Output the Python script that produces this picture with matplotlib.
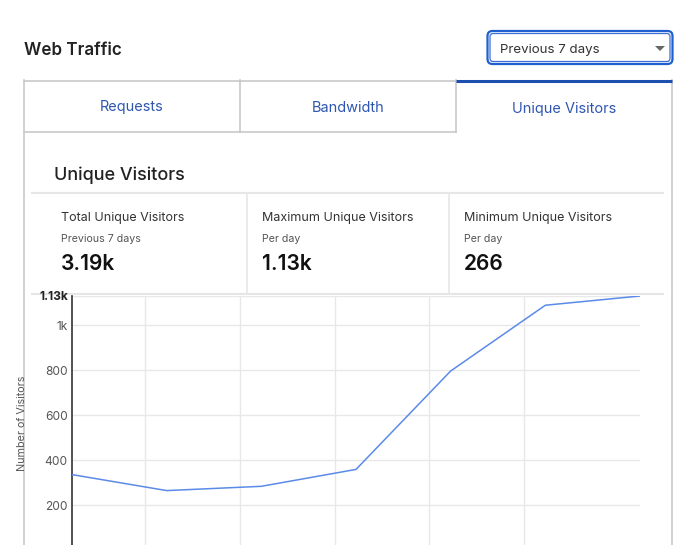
import matplotlib
matplotlib.use("Agg")
import matplotlib.pyplot as plt
from matplotlib.patches import FancyBboxPatch, Polygon

plt.rcParams['font.family'] = ['Inter', 'DejaVu Sans']

# ---- data ----
days = [0, 1, 2, 3, 4, 5, 6]
visitors = [337, 266, 285, 360, 797, 1089, 1130]
ytick_values = [200, 400, 600, 800, 1000, 1130]
ytick_labels = ['200', '400', '600', '800', '1k', '1.13k']
tabs = ['Requests', 'Bandwidth', 'Unique Visitors']
stat_titles = ['Total Unique Visitors', 'Maximum Unique Visitors', 'Minimum Unique Visitors']
stat_subs = ['Previous 7 days', 'Per day', 'Per day']
stat_values = ['3.19k', '1.13k', '266']

W, H = 680, 545
PT = 0.72  # px -> pt at dpi 100
DY = 1.5   # small vertical nudge for text baseline

fig = plt.figure(figsize=(W / 100, H / 100), dpi=100)
bg = fig.add_axes([0, 0, 1, 1], zorder=0)
bg.set_xlim(0, W)
bg.set_ylim(H, 0)
bg.axis('off')

border = '#c9c9c9'
light = '#e6e6e6'
blue_txt = '#2f56b0'

# Title
bg.text(24, 49 + DY, 'Web Traffic', fontsize=17 * PT, fontweight='semibold',
        color='#222222', va='center', ha='left')

# Dropdown
bg.add_patch(FancyBboxPatch((487.5, 31), 185, 33, boxstyle='round,pad=0,rounding_size=5',
                            fc='white', ec='#1f5fd0', lw=1.6))
bg.add_patch(FancyBboxPatch((490, 33.5), 180, 28, boxstyle='round,pad=0,rounding_size=3',
                            fc='white', ec='#3b6fd6', lw=0.9))
bg.text(500, 49 + DY, 'Previous 7 days', fontsize=13.3 * PT, color='#333333', va='center', ha='left')
bg.add_patch(Polygon([[655, 46], [665, 46], [660, 51]], closed=True, fc='#666666', ec='none'))

# Card outline
bg.plot([24, 24], [80, H], color=border, lw=1.2)
bg.plot([672, 672], [80, H], color=border, lw=1.2)

# Tabs
tab_x = [24, 240, 456, 672]
for i, name in enumerate(tabs):
    x0, x1 = tab_x[i], tab_x[i + 1]
    if i < 2:
        bg.plot([x0, x1], [80.5, 80.5], color=border, lw=1.2)
        bg.plot([x0, x1], [132, 132], color=border, lw=1.2)
        bg.plot([x1, x1], [80, 132], color=border, lw=1.2)
        bg.text((x0 + x1) / 2, 106 + DY, name, fontsize=14.5 * PT, color=blue_txt,
                va='center', ha='center')
    else:
        bg.plot([x0, x1], [81, 81], color='#1d4fb0', lw=2.2, solid_capstyle='butt')
        bg.text((x0 + x1) / 2, 108 + DY, name, fontsize=14.5 * PT, color=blue_txt,
                va='center', ha='center')

# Section heading
bg.text(54, 174 + DY, 'Unique Visitors', fontsize=18 * PT, fontweight='medium',
        color='#222222', va='center', ha='left')
bg.plot([32, 663], [193, 193], color=light, lw=1.5)
bg.plot([32, 663], [294, 294], color=light, lw=1.5)
for xd in [247, 449]:
    bg.plot([xd, xd], [193, 294], color=light, lw=1.2)

stat_x = [61, 262, 464]
for i in range(3):
    bg.text(stat_x[i], 216 + DY, stat_titles[i], fontsize=12.5 * PT, color='#333333', va='center', ha='left')
    bg.text(stat_x[i], 237 + DY, stat_subs[i], fontsize=10.6 * PT, color='#555555', va='center', ha='left')
    bg.text(stat_x[i], 263 + DY, stat_values[i], fontsize=21 * PT, fontweight='semibold',
            color='#111111', va='center', ha='left')

# ---- chart ----
left_px, right_px, top_px, bottom_px = 72, 640, 296, 550.5
ax = fig.add_axes([left_px / W, (H - bottom_px) / H, (right_px - left_px) / W,
                   (bottom_px - top_px) / H], zorder=2)
ax.set_facecolor('none')
ax.plot(days, visitors, color='#5b8ae8', lw=1.1, zorder=3)
ax.set_xlim(0, 6)
ax.set_ylim(0, 1130)

ax.set_yticks(ytick_values)
ax.set_yticklabels(ytick_labels)
ax.set_xticks([0.77, 1.77, 2.78, 3.77, 4.77])
ax.set_xticklabels([])
ax.tick_params(axis='both', length=0)
ax.tick_params(axis='y', pad=3, labelsize=12 * PT, labelcolor='#555555')
for lab in ax.get_yticklabels():
    if lab.get_text() == '1.13k':
        lab.set_fontweight('bold')
        lab.set_color('#222222')
ax.grid(True, color='#e8e8e8', lw=1.0)
for s in ['top', 'right', 'bottom']:
    ax.spines[s].set_visible(False)
ax.spines['left'].set_color('#333333')
ax.spines['left'].set_linewidth(1.2)
ax.set_axisbelow(True)

bg.text(22.5, 423, 'Number of Visitors', fontsize=10.8 * PT, color='#555555',
        rotation=90, va='center', ha='center')

fig.savefig('out.png', dpi=100)
